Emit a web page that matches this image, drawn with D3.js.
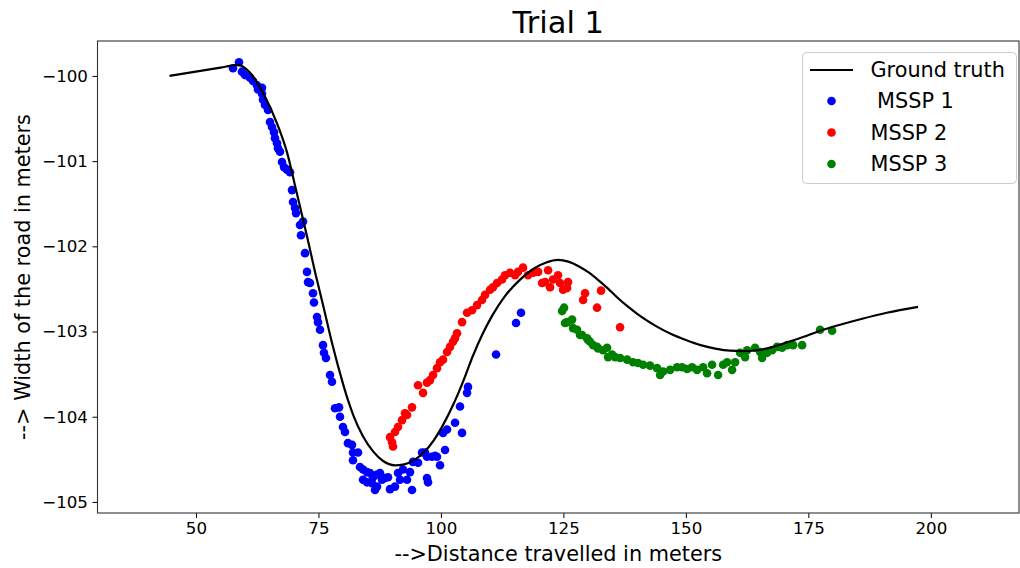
<!DOCTYPE html>
<html>
<head>
<meta charset="utf-8">
<script src="https://cdn.jsdelivr.net/npm/d3@7"></script>
<style>
  html, body { margin: 0; padding: 0; background: #fff; }
  svg { display: block; font-family: "DejaVu Sans", sans-serif; }
</style>
</head>
<body>
<svg id="chart" width="1020" height="568"></svg>
<script>
// ---------- data ----------
const gtX = [44.6, 55.0, 58.6, 61.0, 63.7, 66.5, 68.6, 70.6, 72.7, 74.3, 75.9, 77.8, 79.8, 81.0, 82.1, 84.0, 86.2, 88.2, 90.6, 92.5, 94.5, 96.5, 98.5, 100.5, 102.5, 104.5, 106.5, 108.5, 110.5, 113.0, 116.0, 119.0, 121.5, 123.9, 126.0, 128.0, 130.0, 132.0, 134.0, 136.0, 138.0, 140.0, 142.0, 144.0, 147.0, 150.0, 153.0, 156.0, 159.0, 161.5, 164.5, 167.8, 171.0, 174.7, 178.0, 181.5, 186.0, 191.0, 197.4];
const gtY = [-100.0, -99.903, -99.87, -99.96, -100.2, -100.55, -100.9, -101.38, -101.89, -102.30, -102.68, -103.14, -103.57, -103.8, -103.98, -104.22, -104.41, -104.52, -104.57, -104.56, -104.51, -104.42, -104.28, -104.09, -103.86, -103.59, -103.29, -103.03, -102.81, -102.59, -102.40, -102.26, -102.19, -102.16, -102.18, -102.23, -102.30, -102.39, -102.49, -102.60, -102.70, -102.79, -102.87, -102.94, -103.03, -103.10, -103.16, -103.20, -103.225, -103.23, -103.22, -103.18, -103.12, -103.05, -102.98, -102.92, -102.85, -102.78, -102.71];

const mssp1X = [58.78,57.55,59.39,60.0,61.03,61.64,62.45,62.66,63.48,63.48,63.68,64.09,64.70,65.11,65.52,65.93,66.13,66.54,66.74,67.15,67.56,67.97,68.58,69.19,69.60,69.81,70.21,70.42,71.23,71.44,71.85,72.26,72.66,72.87,73.28,73.89,74.09,74.71,74.91,75.32,75.93,76.13,76.54,77.36,77.77,78.38,79.20,79.40,80.01,80.42,81.03,81.85,82.05,83.08,82.05,83.48,84.10,84.91,85.53,84.10,86.14,86.96,87.57,84.91,85.93,86.96,86.55,87.98,88.59,89.20,89.61,90.63,91.24,91.65,92.26,93.08,93.69,94.10,94.30,95.33,96.14,97.16,98.18,99.20,99.82,97.16,97.37,100.84,100.43,101.25,102.88,104.31,103.90,105.33,105.53,96.76,98.80,111.25,115.33,116.35];
const mssp1Y = [-99.84,-99.91,-99.95,-99.99,-100.02,-100.06,-100.11,-100.16,-100.14,-100.21,-100.28,-100.34,-100.40,-100.54,-100.60,-100.66,-100.73,-100.79,-100.85,-100.89,-101.01,-101.07,-101.10,-101.13,-101.34,-101.48,-101.55,-101.61,-101.75,-101.87,-101.71,-102.08,-102.30,-102.42,-102.43,-102.55,-102.66,-102.83,-102.89,-102.98,-103.16,-103.25,-103.31,-103.51,-103.59,-103.90,-103.89,-104.00,-104.12,-104.18,-104.31,-104.33,-104.42,-104.42,-104.51,-104.59,-104.62,-104.65,-104.66,-104.74,-104.71,-104.68,-104.66,-104.77,-104.78,-104.82,-104.86,-104.74,-104.72,-104.71,-104.85,-104.82,-104.66,-104.74,-104.62,-104.74,-104.65,-104.86,-104.53,-104.54,-104.42,-104.47,-104.47,-104.47,-104.57,-104.72,-104.77,-104.39,-104.19,-104.15,-104.07,-104.19,-103.88,-103.72,-103.65,-104.42,-104.46,-103.27,-102.90,-102.78];

const mssp2X = [89.61,90.02,90.22,90.63,91.24,92.06,92.67,93.08,94.10,95.33,96.35,97.16,97.78,98.39,99.20,99.82,100.43,101.25,101.86,102.47,102.88,103.29,104.31,105.33,106.35,107.37,108.39,109.00,110.03,110.64,111.46,112.48,113.09,114.11,115.13,115.74,116.76,117.78,118.81,119.83,120.64,121.26,121.87,122.28,122.89,123.91,124.32,124.93,125.75,125.95,129.42,129.02,132.69,131.87,136.57];
const mssp2Y = [-104.24,-104.30,-104.35,-104.18,-104.12,-104.04,-103.96,-103.98,-103.89,-103.63,-103.72,-103.60,-103.57,-103.51,-103.43,-103.36,-103.33,-103.24,-103.18,-103.12,-103.08,-103.02,-102.89,-102.78,-102.75,-102.69,-102.63,-102.57,-102.51,-102.48,-102.43,-102.39,-102.34,-102.31,-102.34,-102.30,-102.25,-102.34,-102.31,-102.30,-102.43,-102.42,-102.28,-102.48,-102.39,-102.34,-102.43,-102.51,-102.49,-102.42,-102.55,-102.63,-102.52,-102.72,-102.95];

const mssp3X = [125.14,124.73,125.34,125.75,126.77,126.97,127.79,128.40,128.81,129.83,130.04,130.44,131.06,131.87,132.08,133.10,133.92,134.12,134.94,135.55,136.57,138.00,139.22,140.24,141.27,142.69,144.12,144.74,145.35,146.78,148.21,149.23,150.25,151.27,152.29,153.52,154.33,155.35,156.58,157.60,158.42,159.44,160.05,161.07,162.09,162.50,164.13,165.15,165.56,166.58,167.60,168.62,169.64,170.66,171.89,173.73,177.40,179.85];
const mssp3Y = [-102.72,-102.76,-102.90,-102.89,-102.86,-102.96,-102.98,-103.04,-103.04,-103.08,-103.10,-103.12,-103.16,-103.18,-103.20,-103.22,-103.19,-103.30,-103.27,-103.30,-103.31,-103.33,-103.36,-103.37,-103.39,-103.40,-103.43,-103.51,-103.47,-103.45,-103.42,-103.42,-103.44,-103.42,-103.45,-103.42,-103.49,-103.39,-103.51,-103.39,-103.36,-103.45,-103.36,-103.25,-103.30,-103.22,-103.19,-103.24,-103.31,-103.25,-103.22,-103.18,-103.19,-103.16,-103.16,-103.16,-102.98,-102.99];

const xTicks = [50, 75, 100, 125, 150, 175, 200];
const yTicks = [-100, -101, -102, -103, -104, -105];
const seriesNames = ["Ground truth", " MSSP 1", "MSSP 2", "MSSP 3"];
const seriesColors = ["#000000", "#0000ff", "#ff0000", "#008000"];
const titleText = "Trial 1";
const xLabel = "-->Distance travelled in meters";
const yLabel = "--> Width of the road in meters";

// ---------- layout ----------
const svg = d3.select("#chart");
const L = 97.5, R = 1019, T = 41, B = 513;
const x = d3.scaleLinear().domain([29.9, 218.0]).range([L, R]);
const y = d3.scaleLinear().domain([-105.13, -99.59]).range([B, T]);
const fmt = d => (d < 0 ? "\u2212" + Math.abs(d) : String(d));

// scatter (drawn below the line, as in matplotlib)
const scat = [[mssp1X, mssp1Y, seriesColors[1]], [mssp2X, mssp2Y, seriesColors[2]], [mssp3X, mssp3Y, seriesColors[3]]];
scat.forEach(([xs, ys, c]) => {
  svg.append("g").selectAll("circle").data(xs.map((v, i) => [v, ys[i]]))
    .enter().append("circle")
    .attr("cx", d => x(d[0])).attr("cy", d => y(d[1]))
    .attr("r", 4.3).attr("fill", c);
});

// ground truth line
const line = d3.line().x(d => x(d[0])).y(d => y(d[1])).curve(d3.curveMonotoneX);
svg.append("path").datum(gtX.map((v, i) => [v, gtY[i]]))
  .attr("d", line).attr("fill", "none").attr("stroke", "#000").attr("stroke-width", 2.2);

// axes
const xAxis = d3.axisBottom(x).tickValues(xTicks).tickFormat(fmt).tickSize(5).tickPadding(4.5);
const yAxis = d3.axisLeft(y).tickValues(yTicks).tickFormat(fmt).tickSize(5).tickPadding(4.5);
const gx = svg.append("g").attr("transform", `translate(0,${B})`).call(xAxis);
const gy = svg.append("g").attr("transform", `translate(${L},0)`).call(yAxis);
[gx, gy].forEach(g => {
  g.select(".domain").remove();
  g.selectAll("line").attr("stroke", "#000").attr("stroke-width", 1);
  g.selectAll("text").attr("font-size", 16.7).attr("fill", "#000").attr("font-family", "DejaVu Sans");
});

// spines
svg.append("rect").attr("x", L).attr("y", T).attr("width", R - L).attr("height", B - T)
  .attr("fill", "none").attr("stroke", "#333").attr("stroke-width", 1.1);

// title & labels
svg.append("text").attr("x", (L + R) / 2).attr("y", 33).attr("text-anchor", "middle")
  .attr("font-size", 30.5).attr("fill", "#000").text(titleText);
svg.append("text").attr("x", (L + R) / 2).attr("y", 561).attr("text-anchor", "middle")
  .attr("font-size", 20.8).attr("fill", "#000").text(xLabel);
svg.append("text").attr("transform", `translate(30,${(T + B) / 2}) rotate(-90)`).attr("text-anchor", "middle")
  .attr("font-size", 20.8).attr("fill", "#000").text(yLabel);

// legend
const lg = svg.append("g");
lg.append("rect").attr("x", 802.5).attr("y", 52.5).attr("width", 214).attr("height", 131).attr("rx", 4)
  .attr("fill", "#fff").attr("fill-opacity", 0.8).attr("stroke", "#ccc").attr("stroke-width", 1);
const rowY = [70, 101, 132.5, 164];
lg.append("line").attr("x1", 810).attr("x2", 853).attr("y1", rowY[0]).attr("y2", rowY[0])
  .attr("stroke", seriesColors[0]).attr("stroke-width", 2.2);
[1, 2, 3].forEach(i => {
  lg.append("circle").attr("cx", 831.5).attr("cy", rowY[i]).attr("r", 4.3).attr("fill", seriesColors[i]);
});
seriesNames.forEach((n, i) => {
  lg.append("text").attr("x", 870.5).attr("y", rowY[i]).attr("dy", "0.36em")
    .attr("font-size", 20.8).attr("fill", "#000").attr("xml:space", "preserve").style("white-space", "pre").text(n);
});
</script>
</body>
</html>
